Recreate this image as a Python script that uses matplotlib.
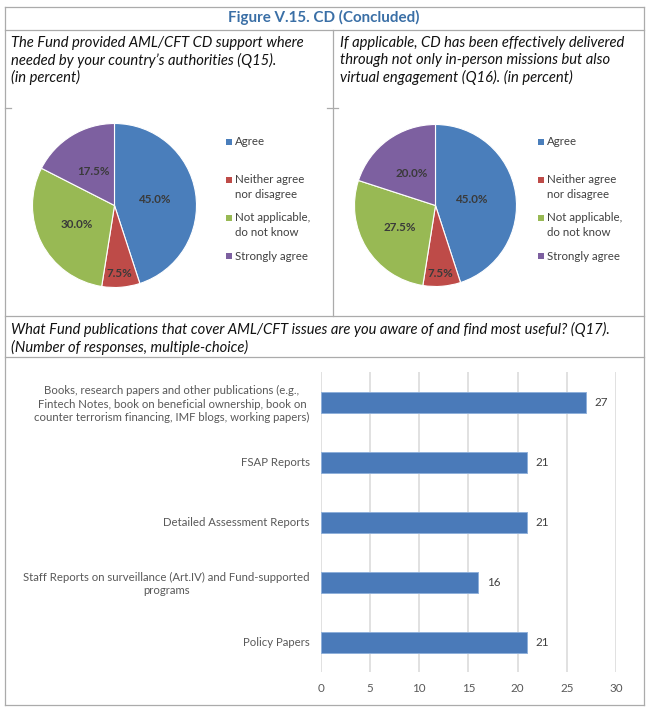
import numpy as np
import matplotlib
matplotlib.use("Agg")
import matplotlib.pyplot as plt
from matplotlib.lines import Line2D
from matplotlib.patches import Rectangle

plt.rcParams['font.family'] = ['Lato', 'DejaVu Sans']

# ---------------- data ----------------
title = "Figure V.15. CD (Concluded)"
q15_text = ["The Fund provided AML/CFT CD support where",
            "needed by your country\u2019s authorities (Q15).",
            "(in percent)"]
q16_text = ["If applicable, CD has been effectively delivered",
            "through not only in-person missions but also",
            "virtual engagement (Q16). (in percent)"]
q17_text = ["What Fund publications that cover AML/CFT issues are you aware of and find most useful? (Q17).",
            "(Number of responses, multiple-choice)"]

pie_labels = ["Agree", "Neither agree\nnor disagree", "Not applicable,\ndo not know", "Strongly agree"]
q15_values = [45.0, 7.5, 30.0, 17.5]
q16_values = [45.0, 7.5, 27.5, 20.0]

bar_categories = ["Books, research papers and other publications (e.g.,\nFintech Notes, book on beneficial ownership, book on\ncounter terrorism financing, IMF blogs, working papers)",
                  "FSAP Reports",
                  "Detailed Assessment Reports",
                  "Staff Reports on surveillance (Art.IV) and Fund-supported\nprograms",
                  "Policy Papers"]
bar_values = [27, 21, 21, 16, 21]
bar_ticks = [0, 5, 10, 15, 20, 25, 30]

# ---------------- style ----------------
W, H = 651, 710
pie_colors = ['#4A7EBB', '#BE4B48', '#98B954', '#7D60A0']
bar_color = '#4A7AB9'
border_col = '#ABABAB'
title_col = '#3A6FA6'
legend_txt = '#404040'

fig = plt.figure(figsize=(W / 100, H / 100), dpi=100)


def fx(x):
    return x / W


def fy(y):
    return 1 - y / H


def hline(y, x0, x1):
    fig.add_artist(Line2D([fx(x0), fx(x1)], [fy(y), fy(y)], color=border_col, lw=0.9,
                          transform=fig.transFigure))


def vline(x, y0, y1):
    fig.add_artist(Line2D([fx(x), fx(x)], [fy(y0), fy(y1)], color=border_col, lw=0.9,
                          transform=fig.transFigure))


# table borders
hline(7.3, 4.5, 644)
hline(29.5, 4.5, 644)
hline(316, 4.5, 644)
hline(357, 4.5, 644)
hline(704.5, 4.5, 644)
vline(4.5, 7.3, 704.5)
vline(644, 7.3, 704.5)
vline(332.5, 29.5, 316)
hline(108, 4.5, 11)
hline(108, 327, 338)

# title
fig.text(fx(324), fy(17.5), title, ha='center', va='center', fontsize=10.9,
         fontweight='bold', color=title_col)

# question texts
QFS = 10.6
for i, line in enumerate(q15_text):
    fig.text(fx(11), fy(42.5 + i * 17.5), line, ha='left', va='center', fontsize=QFS,
             fontstyle='italic', color='#111111')
for i, line in enumerate(q16_text):
    fig.text(fx(340), fy(42.5 + i * 17.5), line, ha='left', va='center', fontsize=QFS,
             fontstyle='italic', color='#111111')
for i, line in enumerate(q17_text):
    fig.text(fx(11), fy(329.5 + i * 18), line, ha='left', va='center', fontsize=QFS,
             fontstyle='italic', color='#111111')


def draw_pie(cx, cy, r, values, label_dist, leg_x):
    ax = fig.add_axes([fx(cx - r), fy(cy + r), 2 * r / W, 2 * r / H])
    wedges, _ = ax.pie(values, colors=pie_colors, startangle=90, counterclock=False,
                       radius=1, wedgeprops=dict(edgecolor='white', linewidth=0.8))
    ax.set_xlim(-1.0, 1.0)
    ax.set_ylim(-1.0, 1.0)
    ax.set_aspect('equal')
    ax.axis('off')
    for w, v, d in zip(wedges, values, label_dist):
        ang = np.deg2rad((w.theta1 + w.theta2) / 2)
        ax.text(d * np.cos(ang), d * np.sin(ang), f"{v:.1f}%", ha='center', va='center',
                fontsize=8.4, fontweight='bold', color='#3A3A3A')
    # legend
    for i, (lab, col) in enumerate(zip(pie_labels, pie_colors)):
        y0 = 141.5 + i * 38.2
        fig.add_artist(Rectangle((fx(leg_x), fy(y0 + 3)), 6 / W, 6 / H, facecolor=col,
                                 edgecolor='none', transform=fig.transFigure))
        for k, line in enumerate(lab.split('\n')):
            fig.text(fx(leg_x + 9), fy(y0 + k * 14.5), line, ha='left', va='center',
                     fontsize=8.3, color=legend_txt)


draw_pie(114.5, 205.5, 82, q15_values, [0.5, 0.83, 0.52, 0.49], 226)
draw_pie(435.5, 205.5, 81, q16_values, [0.46, 0.84, 0.52, 0.49], 538)

# bar chart
axb = fig.add_axes([fx(320.7), fy(672), 295.3 / W, 300 / H])
ypos = np.arange(len(bar_categories))
axb.barh(ypos, bar_values, height=0.35, color=bar_color, edgecolor='#8FB0DA',
         linewidth=0.7, zorder=3)
axb.set_xlim(0, 30)
axb.set_ylim(len(bar_categories) - 0.5, -0.5)
axb.set_xticks(bar_ticks)
axb.set_xticklabels([str(t) for t in bar_ticks])
axb.set_yticks(ypos)
axb.set_yticklabels(bar_categories)
axb.grid(axis='x', color='#D9D9D9', lw=1.1, zorder=0)
axb.set_axisbelow(True)
for s in axb.spines.values():
    s.set_visible(False)
axb.tick_params(axis='x', length=0, pad=8, labelsize=8.4, labelcolor='#595959')
axb.tick_params(axis='y', length=0, pad=8, labelsize=8.2, labelcolor='#595959')
for lab in axb.get_yticklabels():
    lab.set_multialignment('center')
    lab.set_linespacing(1.25)
for y, v in zip(ypos, bar_values):
    axb.text(v + 0.85, y, str(v), ha='left', va='center', fontsize=8.4, color='#404040')

fig.savefig("out.png", dpi=100)
